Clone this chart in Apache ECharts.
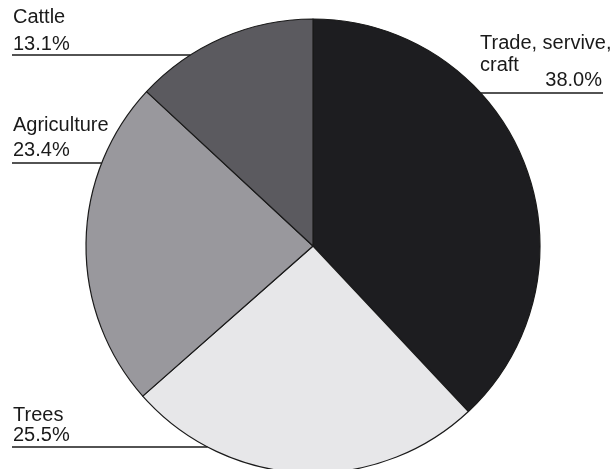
<!DOCTYPE html>
<html>
<head>
<meta charset="utf-8">
<style>html,body{margin:0;padding:0;background:#fff}#c{width:615px;height:469px}</style>
<script src="https://cdn.jsdelivr.net/npm/echarts@6/dist/echarts.min.js"></script>
</head>
<body>
<div id="c"></div>
<script>
const categories = ['Trade, servive, craft', 'Trees', 'Agriculture', 'Cattle'];
const values = [38.0, 25.5, 23.4, 13.1];
const nameLines = [['Trade, servive,', 'craft'], ['Trees'], ['Agriculture'], ['Cattle']];
const colors = ['#1d1d20', '#e7e7e9', '#99989d', '#5b5a5f'];

const cx = 313, cy = 246, R = 227;
const FONT = 'Liberation Sans, Arial, Helvetica, sans-serif';
const FS = 20;
// label layout: side, text anchor x, line y, name line centers, value center
const layout = [
  {side: 'right', x: 480, xr: 603, lineY: 93, nameY: [43, 65.5], valY: 80.5},
  {side: 'left', x: 13, lineY: 447, nameY: [415.5], valY: 435.5},
  {side: 'left', x: 13, lineY: 163, nameY: [125.5], valY: 150},
  {side: 'left', x: 13, lineY: 55, nameY: [17.5], valY: 44.5}
];

const graphics = [];
categories.forEach((c, i) => {
  const L = layout[i];
  const dx = Math.sqrt(R * R - (L.lineY - cy) * (L.lineY - cy));
  nameLines[i].forEach((t, k) => {
    graphics.push({type: 'text', x: L.x, y: L.nameY[k], z: 10,
      style: {text: t, fill: '#1a1a1a', font: FS + 'px ' + FONT, textAlign: 'left', textVerticalAlign: 'middle'}});
  });
  const pct = values[i].toFixed(1) + '%';
  if (L.side === 'right') {
    graphics.push({type: 'text', x: L.xr - 1, y: L.valY, z: 10,
      style: {text: pct, fill: '#1a1a1a', font: FS + 'px ' + FONT, textAlign: 'right', textVerticalAlign: 'middle'}});
    graphics.push({type: 'line', z: 10, shape: {x1: cx + dx, y1: L.lineY, x2: L.xr, y2: L.lineY},
      style: {stroke: '#1a1a1a', lineWidth: 1.5}});
  } else {
    graphics.push({type: 'text', x: L.x, y: L.valY, z: 10,
      style: {text: pct, fill: '#1a1a1a', font: FS + 'px ' + FONT, textAlign: 'left', textVerticalAlign: 'middle'}});
    graphics.push({type: 'line', z: 10, shape: {x1: 12, y1: L.lineY, x2: cx - dx, y2: L.lineY},
      style: {stroke: '#1a1a1a', lineWidth: 1.5}});
  }
});

const chart = echarts.init(document.getElementById('c'), null, {renderer: 'canvas'});
chart.setOption({
  animation: false,
  backgroundColor: '#fff',
  series: [{
    type: 'pie',
    center: [cx, cy],
    radius: R,
    startAngle: 90,
    clockwise: true,
    silent: true,
    label: {show: false},
    labelLine: {show: false},
    itemStyle: {borderColor: '#1a1a1a', borderWidth: 1.2},
    data: categories.map((c, i) => ({name: c, value: values[i], itemStyle: {color: colors[i]}}))
  }],
  graphic: graphics
});
</script>
</body>
</html>
